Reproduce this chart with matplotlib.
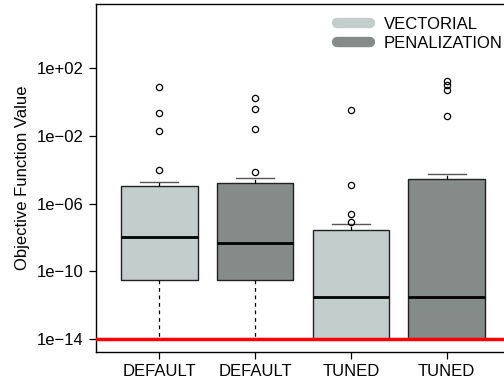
import numpy as np
import matplotlib
matplotlib.use('Agg')
import matplotlib.pyplot as plt
from matplotlib.lines import Line2D

plt.rcParams['font.family'] = ['Liberation Sans', 'DejaVu Sans']

# === Data (log10 of objective value) ===
labels = ['DEFAULT', 'DEFAULT', 'TUNED', 'TUNED']
groups = ['VECTORIAL', 'PENALIZATION', 'VECTORIAL', 'PENALIZATION']
q1 = [-10.49, -10.51, -14.0, -14.0]
med = [-7.97, -8.34, -11.49, -11.52]
q3 = [-4.98, -4.78, -7.53, -4.54]
whislo = [-14.0, -14.0, -14.0, -14.0]
whishi = [-4.70, -4.49, -7.22, -4.25]
fliers = [
    [0.92, -0.64, -1.70, -4.00],
    [0.25, -0.38, -1.57, -4.12],
    [-0.44, -4.88, -6.61, -7.06],
    [1.27, 1.01, 0.74, -0.81],
]
threshold = 1e-14

col = {'VECTORIAL': '#c3cdcc', 'PENALIZATION': '#858b89'}

stats = []
for i in range(len(labels)):
    stats.append(dict(q1=10**q1[i], med=10**med[i], q3=10**q3[i],
                      whislo=10**whislo[i], whishi=10**whishi[i],
                      fliers=10**np.array(fliers[i]), label=labels[i]))

fig = plt.figure(figsize=(5.04, 3.83), dpi=100)
ax = fig.add_axes([96/504, 1-352/383, (510-96)/504, (352-4)/383])
ax.set_yscale('log')

bp = ax.bxp(stats, positions=[1, 2, 3, 4], widths=0.8, capwidths=0.4,
            patch_artist=True,
            boxprops=dict(edgecolor='#222222', linewidth=1.0),
            medianprops=dict(color='black', linewidth=2.0),
            whiskerprops=dict(color='black', linewidth=0.9, linestyle=(0, (3, 3))),
            capprops=dict(color='#555555', linewidth=1.0),
            flierprops=dict(marker='o', markersize=4.5, markerfacecolor='none',
                            markeredgecolor='black', markeredgewidth=0.9))
for patch, g in zip(bp['boxes'], groups):
    patch.set_facecolor(col[g])

ax.axhline(threshold, color='red', linewidth=2.5, zorder=5)

ax.set_xlim(0.34, 4.66)
ax.set_ylim(10**-14.77, 10**5.8)
yt = [1e2, 1e-2, 1e-6, 1e-10, 1e-14]
ax.set_yticks(yt)
ax.set_yticklabels(['1e+02', '1e\u221202', '1e\u221206', '1e\u221210', '1e\u221214'])
ax.minorticks_off()
ax.set_xticks([1, 2, 3, 4])
ax.set_xticklabels(labels)
ax.tick_params(labelsize=12, length=5, width=0.9, pad=4)
ax.set_ylabel('Objective Function Value', fontsize=12, labelpad=5)
for s in ax.spines.values():
    s.set_linewidth(1.0)

handles = [Line2D([], [], color=col['VECTORIAL'], lw=7.5, solid_capstyle='round'),
           Line2D([], [], color=col['PENALIZATION'], lw=7.5, solid_capstyle='round')]
ax.legend(handles, ['VECTORIAL', 'PENALIZATION'], loc='upper left',
          bbox_to_anchor=(337/504, 1-17/383), bbox_transform=fig.transFigure,
          frameon=False, fontsize=12, handlelength=2.0, handletextpad=0.8,
          labelspacing=0.22, borderpad=0, borderaxespad=0)

fig.savefig('out.png', dpi=100)
